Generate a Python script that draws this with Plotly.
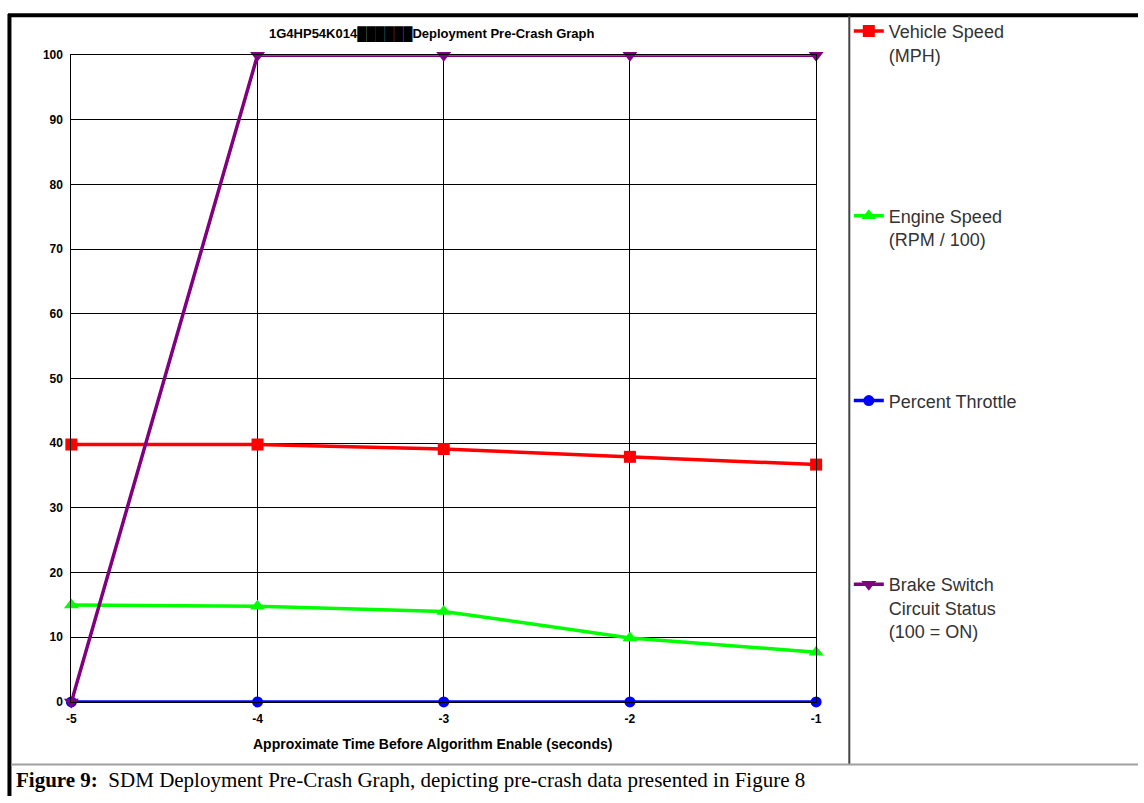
import plotly.graph_objects as go

# ---- data ----
time_s = [-5, -4, -3, -2, -1]
vehicle_speed_mph = [39.8, 39.8, 39.1, 37.9, 36.7]
engine_speed_rpm100 = [15.0, 14.8, 14.0, 9.9, 7.7]
percent_throttle = [0, 0, 0, 0, 0]
brake_switch_status = [0, 100, 100, 100, 100]

x_tick_vals = [-5, -4, -3, -2, -1]
x_tick_text = ["-5", "-4", "-3", "-2", "-1"]
y_tick_vals = [0, 10, 20, 30, 40, 50, 60, 70, 80, 90, 100]
y_tick_text = [str(v) for v in y_tick_vals]

series_names = [
    "Vehicle Speed<br>(MPH)",
    "Engine Speed<br>(RPM / 100)",
    "Percent Throttle",
    "Brake Switch<br>Circuit Status<br>(100 = ON)",
]
series_colors = ["#FF0000", "#00FF00", "#0000FF", "#800080"]
series_symbols = ["square", "triangle-up", "circle", "triangle-down"]
series_sizes = [12, 13, 11, 13]
series_values = [vehicle_speed_mph, engine_speed_rpm100, percent_throttle, brake_switch_status]

title_text = "1G4HP54K014██████Deployment Pre-Crash Graph"
x_title = "Approximate Time Before Algorithm Enable (seconds)"
caption_bold = "Figure 9:"
caption_rest = "  SDM Deployment Pre-Crash Graph, depicting pre-crash data presented in Figure 8"

W, H = 1144, 803


def px(x):
    return x / W


def py(y):
    return 1 - y / H


fig = go.Figure()
legend_ids = ["legend", "legend2", "legend3", "legend4"]
for name, vals, col, sym, sz, lg in zip(series_names, series_values, series_colors,
                                         series_symbols, series_sizes, legend_ids):
    fig.add_trace(go.Scatter(
        x=time_s, y=vals, name=name, mode="lines+markers",
        line=dict(color=col, width=3.5),
        marker=dict(color=col, symbol=sym, size=sz, line=dict(width=0)),
        cliponaxis=False, legend=lg,
    ))

legend_tops = [6, 194, 382, 569]
legend_common = dict(
    x=px(852), xanchor="left", yanchor="top",
    bgcolor="rgba(0,0,0,0)", borderwidth=0,
    font=dict(family="Liberation Sans, Arial, sans-serif", size=18, color="#333333"),
    itemwidth=30, valign="top", itemclick=False, itemdoubleclick=False,
)
legends = {}
for lg, top in zip(legend_ids, legend_tops):
    legends[lg] = dict(legend_common, y=py(top))

tick_font = dict(family="Liberation Sans, Arial, sans-serif", size=12, color="#000000", weight="bold")

fig.update_layout(
    width=W, height=H,
    margin=dict(l=0, r=0, t=0, b=0),
    paper_bgcolor="white", plot_bgcolor="white",
    showlegend=True,
    xaxis=dict(
        domain=[px(67), px(819)], range=[-5, -1],
        tickvals=x_tick_vals, ticktext=x_tick_text, tickfont=tick_font,
        showgrid=True, gridcolor="#000000", gridwidth=1,
        showline=True, linecolor="#000000", linewidth=1, mirror=True,
        zeroline=False, ticks="", ticklabelstandoff=6,
    ),
    yaxis=dict(
        domain=[py(707.3), py(49)], range=[0, 100],
        tickvals=y_tick_vals, ticktext=y_tick_text, tickfont=tick_font,
        showgrid=True, gridcolor="#000000", gridwidth=1,
        showline=True, linecolor="#000000", linewidth=1, mirror=True,
        zeroline=False, ticks="", ticklabelstandoff=5,
    ),
    **legends,
)

annotations = [
    dict(text="<b>" + title_text + "</b>", x=px(431), y=py(27), xref="paper", yref="paper",
         xanchor="center", yanchor="middle", showarrow=False,
         font=dict(family="Liberation Sans, Arial, sans-serif", size=13, color="#000000")),
    dict(text="<b>" + x_title + "</b>", x=px(432), y=py(750), xref="paper", yref="paper",
         xanchor="center", yanchor="middle", showarrow=False,
         font=dict(family="Liberation Sans, Arial, sans-serif", size=14, color="#000000")),
    dict(text="<b>" + caption_bold + "</b>" + caption_rest, x=px(9), y=py(787),
         xref="paper", yref="paper", xanchor="left", yanchor="middle", showarrow=False,
         font=dict(family="Liberation Serif, Times New Roman, serif", size=21, color="#000000")),
]
fig.update_layout(annotations=annotations)

shapes = [
    dict(type="line", xref="paper", yref="paper", x0=px(3), x1=1, y0=py(8.5), y1=py(8.5),
         line=dict(color="#000000", width=4)),
    dict(type="line", xref="paper", yref="paper", x0=px(4.5), x1=px(4.5), y0=py(7), y1=0,
         line=dict(color="#000000", width=4)),
    dict(type="line", xref="paper", yref="paper", x0=px(852.5), x1=px(852.5), y0=py(9), y1=py(771),
         line=dict(color="#444444", width=2)),
    dict(type="line", xref="paper", yref="paper", x0=px(6), x1=1, y0=py(771), y1=py(771),
         line=dict(color="#A0A0A0", width=2)),
]
fig.update_layout(shapes=shapes)

fig.write_html(
    "out.html",
    config={"displayModeBar": False},
    post_script="document.body.style.margin='0';document.body.style.padding='0';document.body.style.overflow='hidden';",
)
